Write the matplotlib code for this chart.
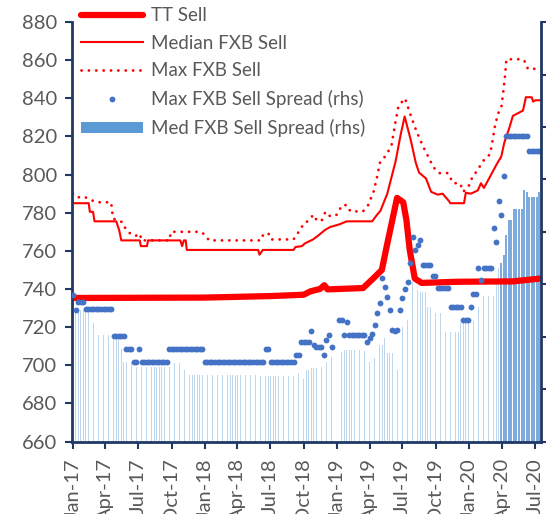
import numpy as np
import pandas as pd
import matplotlib
matplotlib.use("Agg")
import matplotlib.pyplot as plt
from matplotlib.lines import Line2D
from matplotlib.patches import Patch

plt.rcParams['font.family'] = ['Lato', 'DejaVu Sans']

# --- Left axis series (breakpoints) ---
tt_dates = ["2017-01-01", "2018-01-01", "2018-07-01", "2018-10-01", "2018-10-20",
            "2018-11-15", "2018-11-27", "2018-12-06", "2019-03-14", "2019-04-11",
            "2019-05-05", "2019-05-18", "2019-06-05", "2019-06-16", "2019-07-03",
            "2019-07-12", "2019-07-21", "2019-08-04", "2019-08-23", "2019-12-01",
            "2020-05-01", "2020-07-17"]
tt_sell = [735.3, 735.5, 736.3, 737.0, 738.8,
           740.0, 742.0, 739.8, 740.5, 745.5,
           750.0, 762.0, 778.0, 787.8, 785.5,
           776.0, 760.5, 745.5, 743.2, 743.8,
           744.0, 745.5]

med_dates = ["2017-01-01", "2017-02-14", "2017-02-17", "2017-02-26", "2017-03-02",
             "2017-05-01", "2017-05-09", "2017-05-15", "2017-07-05", "2017-07-08",
             "2017-07-25", "2017-07-28", "2017-10-25", "2017-10-30", "2017-11-04",
             "2017-11-09", "2017-11-12", "2018-05-28", "2018-06-01", "2018-06-10",
             "2018-09-03", "2018-09-08", "2018-09-26", "2018-10-05", "2018-10-27",
             "2018-11-10", "2018-11-29", "2018-12-13", "2019-01-09", "2019-01-28",
             "2019-04-08", "2019-04-22", "2019-05-01", "2019-05-20", "2019-06-12",
             "2019-06-26", "2019-07-07", "2019-07-24", "2019-08-07", "2019-08-16",
             "2019-09-04", "2019-09-18", "2019-10-06", "2019-10-20", "2019-11-07",
             "2019-11-10", "2019-12-18", "2019-12-23", "2020-01-06", "2020-01-25",
             "2020-02-03", "2020-02-11", "2020-03-02", "2020-03-16", "2020-03-30",
             "2020-04-07", "2020-04-22", "2020-05-01", "2020-05-29", "2020-06-06",
             "2020-06-22", "2020-06-26", "2020-07-02", "2020-07-17"]
med_fxb_sell = [785.0, 785.0, 780.5, 780.5, 775.5,
                775.5, 771.0, 765.5, 765.5, 762.5,
                762.5, 765.5, 765.5, 762.5, 765.5,
                765.5, 760.5, 760.5, 758.0, 760.5,
                760.5, 762.0, 762.5, 764.0, 766.0,
                768.0, 771.0, 772.5, 774.0, 775.5,
                775.5, 779.0, 781.0, 790.0, 807.0,
                821.0, 830.5, 818.0, 806.0, 801.0,
                798.0, 791.0, 789.5, 790.0, 786.0,
                785.0, 785.0, 790.5, 790.0, 791.7,
                795.5, 793.0, 800.0, 805.0, 809.5,
                816.5, 825.0, 830.8, 833.6, 840.6,
                840.6, 838.3, 839.0, 839.0]

max_dates = ["2017-01-01", "2017-01-14", "2017-01-31", "2017-03-07", "2017-04-17",
             "2017-04-22", "2017-05-19", "2017-05-28", "2017-06-16", "2017-06-25",
             "2017-07-06", "2017-07-09", "2017-09-25", "2017-09-29", "2017-12-21",
             "2018-01-04", "2018-01-12", "2018-06-05", "2018-06-12", "2018-06-26",
             "2018-07-02", "2018-09-03", "2018-09-11", "2018-09-22", "2018-10-01",
             "2018-10-14", "2018-10-28", "2018-11-07", "2018-11-20", "2018-11-30",
             "2018-12-14", "2019-01-01", "2019-01-15", "2019-01-29", "2019-02-07",
             "2019-03-14", "2019-03-28", "2019-04-12", "2019-04-21", "2019-04-30",
             "2019-05-18", "2019-06-01", "2019-06-11", "2019-06-20", "2019-07-08",
             "2019-07-22", "2019-08-09", "2019-08-27", "2019-09-10", "2019-09-24",
             "2019-10-10", "2019-11-04", "2019-11-18", "2019-12-07", "2019-12-16",
             "2020-01-04", "2020-01-10", "2020-01-22", "2020-02-05", "2020-02-15",
             "2020-02-28", "2020-03-06", "2020-03-12", "2020-03-21", "2020-03-30",
             "2020-04-04", "2020-04-10", "2020-04-13", "2020-05-28", "2020-06-07",
             "2020-06-11", "2020-07-17"]
max_fxb_sell = [790.0, 788.0, 788.5, 785.5, 785.5,
                777.0, 775.0, 771.0, 768.0, 768.0,
                769.0, 765.5, 765.5, 770.0, 770.0,
                768.0, 765.5, 765.5, 769.0, 769.0,
                766.0, 766.0, 768.5, 771.0, 774.5,
                775.7, 779.0, 775.7, 776.0, 780.5,
                778.0, 779.0, 784.0, 784.0, 780.7,
                780.7, 784.0, 791.0, 798.0, 806.5,
                810.4, 815.6, 827.0, 836.0, 840.0,
                832.0, 822.6, 814.7, 809.5, 804.0,
                800.8, 800.8, 795.5, 795.5, 791.0,
                795.0, 799.0, 801.6, 806.0, 808.7,
                810.6, 818.0, 825.0, 832.0, 835.0,
                842.6, 853.0, 860.5, 860.5, 858.5,
                855.5, 855.5]

# --- Right axis series (weekly, from 2 Jan 2017) ---
nan = np.nan
max_spread = ([2.80] + [2.51] + [2.67] * 3 + [2.52] * 11 + [2.02] * 5 + [1.77] * 3
              + [1.52] * 2 + [1.77] + [1.52] * 11 + [1.77] * 14 + [1.52] * 24
              + [1.76] * 2 + [1.51] * 10 + [1.65] * 2 + [1.90] * 4
              + [2.10, 1.84, 1.80, 1.80, 1.80, 1.65, 1.94, 2.03, 1.81, nan, nan]
              + [2.32, 2.32, 2.03, 2.28] + [2.03] * 7
              + [1.90, 1.97, 2.05, 2.22, 2.45, 2.64, 3.11, 2.95, 2.75, 2.51, 2.13,
                 2.10, 2.13, 2.51, 2.73, 2.90, 3.05, 3.40, 3.91, 3.65, 3.75, 3.85]
              + [3.37] * 4 + [3.15] * 2 + [2.92] * 5 + [2.57] * 5 + [2.32] * 3
              + [2.57, 2.81, 2.81, 3.31, 3.08] + [3.31] * 4
              + [4.07, 3.81, 4.58, 4.32, 5.07] + [5.83] * 9 + [5.55] * 5)

med_spread = ([2.51] * 7 + [2.27] * 3 + [2.03] * 9 + [1.77] + [1.52] * 5 + [1.43] * 15
              + [1.49] * 3 + [1.37] * 2 + [1.26] * 28 + [1.14] + [1.25] * 14
              + [1.30] * 3 + [1.20] + [1.37] * 2 + [1.41] * 3 + [1.43] * 3
              + [1.52] * 2 + [1.62] + [nan] * 3
              + [1.71] + [1.75] * 8 + [1.72] * 2 + [1.52] * 2 + [1.60, 1.68]
              + [1.84] * 2 + [1.97] + [1.68] * 3 + [1.36] * 2 + [2.19] * 3
              + [2.32] * 2 + [3.04] * 2 + [2.89] + [2.86] * 3 + [2.57] * 2
              + [2.45] * 4 + [2.29] + [2.09] * 6 + [2.26] * 2 + [2.29] * 4
              + [2.57] * 3 + [2.78] * 5
              + [3.02, 3.31, 3.40, 3.56, 3.94] + [4.23] * 2 + [4.43] * 4
              + [4.80, 4.75] + [4.67] * 4 + [4.75])

weeks = pd.date_range("2017-01-02", periods=len(max_spread), freq="7D")
tick_dates = pd.date_range("2017-01-01", "2020-07-01", freq="QS")
tick_labels = [d.strftime("%b-%y") for d in tick_dates]

RED = "#FF0000"
BLUE = "#4472C4"
GREY = "#595959"
NAVY = "#1F3864"

fig = plt.figure(figsize=(5.46, 5.14), dpi=100)
ax = fig.add_axes([0.132, 0.141, 0.859, 0.816])
axb = ax.twinx()   # bars (bottom)
axd = ax.twinx()   # dots (top)
axb.set_zorder(1)
ax.set_zorder(2)
axd.set_zorder(3)
ax.patch.set_visible(False)
axd.patch.set_visible(False)

# bars: light and thin until end-March 2020, then dense and darker
bar_dates = weeks.to_numpy()
late = weeks >= pd.Timestamp("2020-03-30")
med_arr = np.array(med_spread, dtype=float)
axb.bar(bar_dates[~late], med_arr[~late], width=1.8, color="#BDD7EE", linewidth=0)
axb.bar(bar_dates[late], med_arr[late], width=5.5, color="#7FAADC", linewidth=0)

ax.plot(pd.to_datetime(max_dates), max_fxb_sell, color=RED, lw=2.0,
        linestyle=(0, (0.05, 2.6)), dash_capstyle="round")
ax.plot(pd.to_datetime(med_dates), med_fxb_sell, color=RED, lw=1.5)
ax.plot(pd.to_datetime(tt_dates), tt_sell, color=RED, lw=4.5, solid_capstyle="round")

axd.plot(weeks, max_spread, linestyle="none", marker="o", ms=4.2, color=BLUE,
         markeredgewidth=0)

xmin, xmax = pd.Timestamp("2016-12-30"), pd.Timestamp("2020-07-18")
for a in (ax, axb, axd):
    a.set_xlim(xmin, xmax)
ax.set_ylim(660, 880)
ax.set_yticks(np.arange(660, 881, 20))
for a in (axb, axd):
    a.set_ylim(0, 8)
    a.set_yticks(np.arange(0, 9, 1))
    a.set_yticklabels([])
axb.tick_params(axis="y", length=0)
axd.tick_params(axis="y", direction="out", length=5, width=1.5, color=NAVY)

ax.set_xticks(tick_dates)
ax.set_xticklabels(tick_labels, rotation=90, fontsize=14.5, color=GREY)
ax.tick_params(axis="x", direction="out", length=5, width=1.5, color=NAVY, pad=7)
ax.tick_params(axis="y", direction="out", length=5, width=1.5, color=NAVY,
               labelsize=14.5, labelcolor=GREY, pad=6)

for a in (ax, axb, axd):
    for s in a.spines.values():
        s.set_visible(False)
ax.spines["left"].set_visible(True)
ax.spines["bottom"].set_visible(True)
axd.spines["right"].set_visible(True)
for s in (ax.spines["left"], ax.spines["bottom"], axd.spines["right"]):
    s.set_color(NAVY)
    s.set_linewidth(2)

handles = [
    Line2D([], [], color=RED, lw=4.5, solid_capstyle="round"),
    Line2D([], [], color=RED, lw=1.5),
    Line2D([], [], color=RED, lw=2.0, linestyle=(0, (0.05, 2.6)), dash_capstyle="round"),
    Line2D([], [], linestyle="none", marker="o", ms=4.2, color=BLUE, markeredgewidth=0),
    Patch(facecolor="#5B9BD5", edgecolor="none"),
]
labels = ["TT Sell", "Median FXB Sell", "Max FXB Sell",
          "Max FXB Sell Spread (rhs)", "Med FXB Sell Spread (rhs)"]
leg = axd.legend(handles, labels, loc="upper left", bbox_to_anchor=(0.148, 0.987),
                 bbox_transform=fig.transFigure, frameon=False, fontsize=13.5,
                 handlelength=3.3, handleheight=0.55, handletextpad=0.45,
                 labelspacing=0.58, borderaxespad=0, borderpad=0)
for t in leg.get_texts():
    t.set_color(GREY)

fig.savefig("out.png", dpi=100)
